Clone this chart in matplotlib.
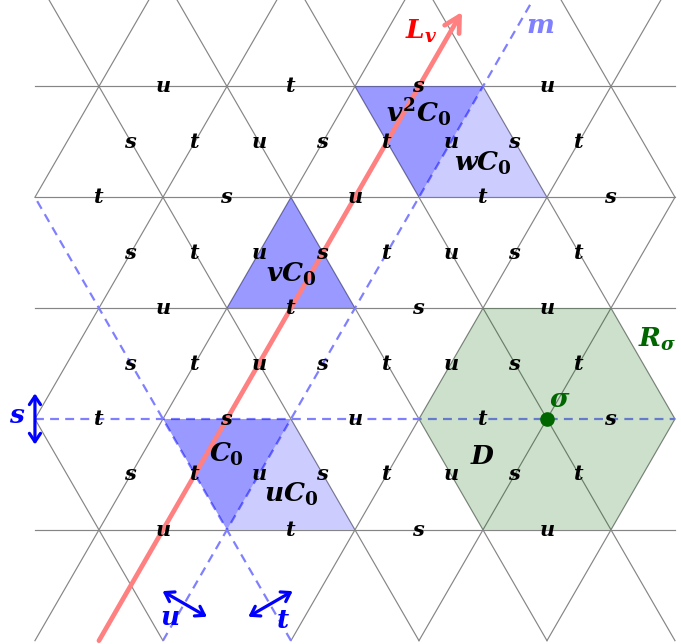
import numpy as np
import matplotlib
matplotlib.use("Agg")
import matplotlib.pyplot as plt
from matplotlib.patches import Polygon

plt.rcParams['mathtext.fontset'] = 'custom'
plt.rcParams['mathtext.it'] = 'DejaVu Serif:italic:bold'
plt.rcParams['mathtext.rm'] = 'DejaVu Serif:bold'
plt.rcParams['mathtext.bf'] = 'DejaVu Serif:bold'

h = np.sqrt(3) / 2
r3 = np.sqrt(3)

# lattice extent (unit = triangle side)
xmin, xmax = -4.0, 1.0
rows = [-1, 0, 1, 2, 3]
ybot, ytop = -2 * h, 3.4

# edge labels
odd_row_labels = ['u', 't', 's', 'u']          # rows 3h, h, -h
even_row_labels = ['t', 's', 'u', 't', 's']    # rows 2h, 0
diag_labels = ['s', 't', 'u', 's', 't', 'u', 's', 't']
diag_rows = [2.5, 1.5, 0.5, -0.5]

# walls through C0: (c, sign) for x - sign*y/sqrt3 = c ; s-wall is row 0
walls = [(-3, -1), (-2, 1)]

# chambers: (name, vertices, shade)
chambers = [
    ('C0', [(-3, 0), (-2, 0), (-2.5, -h)], 'dark'),
    ('uC0', [(-2.5, -h), (-2, 0), (-1.5, -h)], 'light'),
    ('vC0', [(-2.5, h), (-1.5, h), (-2, 2 * h)], 'dark'),
    ('v2C0', [(-1.5, 3 * h), (-0.5, 3 * h), (-1, 2 * h)], 'dark'),
    ('wC0', [(-1, 2 * h), (-0.5, 3 * h), (0, 2 * h)], 'light'),
]
chamber_text = {
    'C0': (r'$C_0$', -2.5, -0.28),
    'uC0': (r'$uC_0$', -2.0, -0.59),
    'vC0': (r'$vC_0$', -2.0, 1.13),
    'v2C0': (r'$v^2C_0$', -1.0, 2.39),
    'wC0': (r'$wC_0$', -0.5, 2.0),
}

fig = plt.figure(figsize=(6.81, 6.44), dpi=100)
ax = fig.add_axes([0, 0, 1, 1])
ax.set_xlim(-4.273, 1.047)
ax.set_ylim(-1.758, 3.273)
ax.axis('off')

gray = '#858585'
# horizontal lattice lines
for k in rows:
    if k == 0:
        continue
    ax.plot([xmin, xmax], [k * h, k * h], color=gray, lw=0.85, zorder=1)


def seg(c, sign):
    # line x - sign*y/sqrt3 = c, clipped to the strip
    if sign > 0:
        lo, hi = r3 * (xmin - c), r3 * (xmax - c)
    else:
        lo, hi = r3 * (c - xmax), r3 * (c - xmin)
    lo, hi = max(lo, ybot), min(hi, ytop)
    if lo >= hi:
        return None
    ys = np.array([lo, hi])
    return c + sign * ys / r3, ys


for c in range(-8, 8):
    for sign in (1, -1):
        if (c, sign) in walls:
            continue
        s = seg(c, sign)
        if s is not None:
            ax.plot(s[0], s[1], color=gray, lw=0.85, zorder=1)

# walls (dashed)
wall_kw = dict(color='#8080ff', lw=1.6, dashes=(4.0, 2.8), zorder=2)
ax.plot([xmin, xmax], [0, 0], **wall_kw)
for c, sign in walls:
    s = seg(c, sign)
    ax.plot(s[0], s[1], **wall_kw)

# hexagon R_sigma
ang = np.arange(6) * np.pi / 3
hexagon = Polygon(np.c_[np.cos(ang), np.sin(ang)], closed=True,
                  facecolor=(0, 0.4, 0), alpha=0.2, edgecolor='none', zorder=3)
ax.add_patch(hexagon)

big = 19
for name, verts, shade in chambers:
    a = 0.4 if shade == 'dark' else 0.2
    ax.add_patch(Polygon(verts, closed=True, facecolor='blue', alpha=a,
                         edgecolor='none', zorder=3))
    txt, tx, ty = chamber_text[name]
    ax.text(tx, ty, txt, fontsize=big, ha='center', va='center', zorder=6)

# line L_v
y_end = 3.18
ax.annotate('', xy=(-2.5 + y_end / r3, y_end), xytext=(-3.5, -2 * h),
            arrowprops=dict(arrowstyle='->,head_length=1.1,head_width=0.6',
                            color='#ff8080', lw=3.4, shrinkA=0, shrinkB=0),
            zorder=4)

# edge labels
lab_kw = dict(fontsize=15, ha='center', va='center', zorder=6)
for k in (3, 1, -1):
    for i, l in enumerate(odd_row_labels):
        ax.text(-3 + i, k * h, '$%s$' % l, **lab_kw)
for k in (2, 0):
    for i, l in enumerate(even_row_labels):
        ax.text(-3.5 + i, k * h, '$%s$' % l, **lab_kw)
for r in diag_rows:
    for i, l in enumerate(diag_labels):
        ax.text(-3.25 + 0.5 * i, r * h, '$%s$' % l, **lab_kw)

# other labels
ax.text(-0.5, -0.3, r'$D$', fontsize=big, ha='center', va='center', zorder=6)
ax.plot([0], [0], 'o', color='#006600', ms=9.5, zorder=7)
ax.text(0.1, 0.15, r'$\sigma$', fontsize=big, color='#006600',
        ha='center', va='center', zorder=7)
ax.text(0.71, 0.62, r'$R_\sigma$', fontsize=big,
        color='#006600', ha='left', va='center', zorder=7)
ax.text(-0.98, 3.03, r'$L_v$', fontsize=big, color='red',
        ha='center', va='center', zorder=7)
ax.text(-0.05, 3.07, r'$m$', fontsize=big, color='#8080ff',
        ha='center', va='center', zorder=7)

# generator arrows
arr = dict(arrowstyle='<->,head_length=0.6,head_width=0.4', color='blue',
           lw=2.3, shrinkA=0, shrinkB=0)
L = 0.2
ax.annotate('', xy=(-4.0, L), xytext=(-4.0, -L), arrowprops=arr, zorder=7)
for cx, cy, dang in [(-2.83, -1.445, -30), (-2.16, -1.445, 30)]:
    d = np.deg2rad(dang)
    dx, dy = L * np.cos(d), L * np.sin(d)
    ax.annotate('', xy=(cx + dx, cy + dy), xytext=(cx - dx, cy - dy),
                arrowprops=arr, zorder=7)
ax.text(-4.14, 0.02, r'$s$', fontsize=big, color='blue',
        ha='center', va='center', zorder=7)
ax.text(-2.945, -1.555, r'$u$', fontsize=big, color='blue',
        ha='center', va='center', zorder=7)
ax.text(-2.06, -1.578, r'$t$', fontsize=big, color='blue',
        ha='center', va='center', zorder=7)

fig.savefig('out.png', dpi=100)
